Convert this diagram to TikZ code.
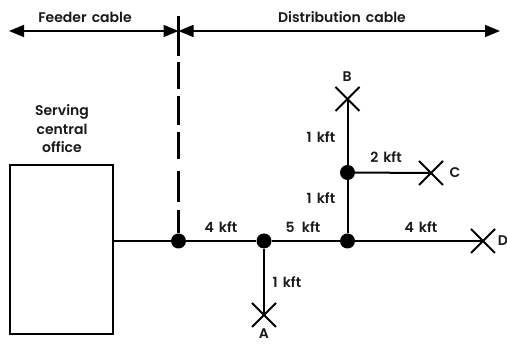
\documentclass[tikz,border=0pt]{standalone}
\usepackage{fontspec}
\setmainfont{Poppins}[BoldFont={Poppins SemiBold},WordSpace=1.5]
\usetikzlibrary{arrows.meta}
\tikzset{
  lbl/.style={inner sep=0pt,font=\fontsize{14}{16}\selectfont\bfseries,text=black!90},
  junction/.style={circle,fill=black,inner sep=0pt,minimum size=15pt},
  cable/.style={line width=2pt},
  spanarrow/.style={line width=1.6pt,{Triangle[length=15pt,width=12pt]}-{Triangle[length=15pt,width=12pt]}},
  cross/.style={line width=1.9pt},
  officebox/.style={draw,line width=1.6pt,inner sep=0pt}
}
\begin{document}
\begin{tikzpicture}[x=1pt,y=-1pt]
\useasboundingbox (0,0) rectangle (507,344);
\node[officebox,minimum width=103pt,minimum height=169pt] (office) at (61.5,249.5) {};
\node[junction] (j1) at (178.5,241) {};
\node[junction] (j2) at (264,241) {};
\node[junction] (j3) at (347.5,241) {};
\node[junction] (j4) at (347.5,172.5) {};
\coordinate (a) at (264,315);
\coordinate (b) at (347.5,99);
\coordinate (c) at (431,173);
\coordinate (d) at (483,241);
\coordinate (topl) at (9,31);
\coordinate (topm) at (178.5,31);
\coordinate (topr) at (500,31);
\coordinate (dtop) at (178.5,16);
% connectors
\draw[cable] (office.east |- j1) -- (j1) -- (j2) -- (j3) -- (d);
\draw[cable] (j2) -- (a);
\draw[cable] (j3) -- (j4) -- (b);
\draw[cable] (j4) -- (c);
\draw[spanarrow] (topl) -- (topm);
\draw[spanarrow] (topm) -- (topr);
\draw[line width=2.2pt,dash pattern=on 40pt off 6pt on 27pt off 7pt on 29pt off 7pt on 27pt off 12pt on 31pt off 8pt on 40pt] (dtop) -- (j1);
% crosses
\foreach \p in {a,b,c,d}{
  \draw[cross] ([shift={(-12,-12)}]\p) -- ([shift={(12,12)}]\p);
  \draw[cross] ([shift={(-12,12)}]\p) -- ([shift={(12,-12)}]\p);
}
% labels
\node[lbl] (t1) at (85,17) {Feeder cable};
\node[lbl] (t2) at (342,17) {Distribution cable};
\node[lbl,align=center,font=\fontsize{14}{18.5}\selectfont\bfseries] (t3) at (62,129) {Serving\\central\\office};
\node[lbl] (t4) at (221,227) {4 kft};
\node[lbl] (t5) at (303,227) {5 \,kft};
\node[lbl] (t6) at (421,227) {4 kft};
\node[lbl] (t7) at (321,198) {1 kft};
\node[lbl] (t8) at (321,137) {1 kft};
\node[lbl] (t9) at (386,157) {2 kft};
\node[lbl] (t10) at (287,282) {1 kft};
\node[lbl] (la) at (264,334) {A};
\node[lbl] (lb) at (347,77) {B};
\node[lbl] (lc) at (455,173) {C};
\node[lbl] (ld) at (503,241) {D};
\end{tikzpicture}
\end{document}
